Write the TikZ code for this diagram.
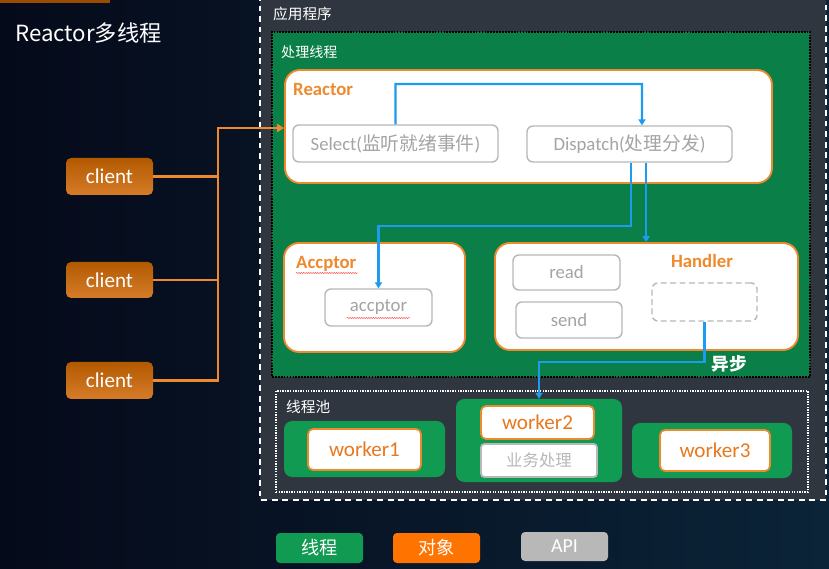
\documentclass[tikz,border=0pt]{standalone}
\usepackage{fontspec}
\setmainfont{Carlito}
\newfontfamily\cjk{Noto Sans CJK SC}
\usetikzlibrary{arrows.meta,calc,decorations.pathmorphing}
\definecolor{bgdark}{HTML}{050A1A}
\definecolor{bgblue}{HTML}{0B2438}
\definecolor{appgray}{HTML}{30363F}
\definecolor{procgreen}{HTML}{0A7F47}
\definecolor{thgreen}{HTML}{119A52}
\definecolor{objorange}{HTML}{EE8A2E}
\definecolor{txtorange}{HTML}{E8781E}
\definecolor{linegray}{HTML}{B8B8B8}
\definecolor{txtgray}{HTML}{A4A4A4}
\definecolor{flowblue}{HTML}{1E9BEF}
\tikzset{
  boxsize/.style args={#1 by #2}{minimum width=#1*0.03cm,minimum height=#2*0.03cm},
  obj/.style={draw=objorange,line width=1.6pt,fill=white,rounded corners=0.45cm,inner sep=0pt},
  api/.style={draw=linegray,line width=1.2pt,fill=white,rounded corners=0.18cm,inner sep=0pt,
    text=txtgray,font=\fontsize{16pt}{18pt}\selectfont},
  objlabel/.style={text=objorange,font=\fontsize{16pt}{18pt}\selectfont\bfseries,inner sep=0pt},
  grp/.style={fill=thgreen,rounded corners=0.25cm,inner sep=0pt},
  worker/.style={draw=objorange,line width=1.5pt,fill=white,rounded corners=0.15cm,inner sep=0pt,
    text=txtorange,font=\fontsize{18pt}{20pt}\selectfont},
  client/.style={top color=orange!70!black,bottom color=objorange!90!black,rounded corners=0.15cm,
    inner sep=0pt,text=white,font=\fontsize{18pt}{20pt}\selectfont},
  legend/.style={rounded corners=0.12cm,inner sep=0pt,text=white},
  areatitle/.style={text=white,inner sep=0pt,anchor=west},
  flow/.style={draw=flowblue,line width=2pt,-{Triangle[length=5pt,width=6pt]}},
  cline/.style={draw=objorange,line width=2.4pt},
  squiggle/.style={draw=red!80,line width=0.4pt,decorate,decoration={snake,amplitude=0.4pt,segment length=2pt}}
}

\begin{document}
\begin{tikzpicture}[x={(0.03cm,0)},y={(0,-0.03cm)}]
  \useasboundingbox (0,0) rectangle (829,569);
  \shade[left color=bgdark,right color=bgblue] (0,0) rectangle (829,569);
  \fill[orange!60!black] (0,0) rectangle (110,3);

  % application area
  \fill[appgray] (260,-5) rectangle (826,500);
  \draw[white,line width=1.5pt,dash pattern=on 5pt off 4pt] (260,-5) -- (260,500) -- (826,500) -- (826,-5);
  \node[areatitle,font=\cjk\fontsize{12.5pt}{14pt}\selectfont] (apptitle) at (273,14) {应用程序};

  \node[areatitle,font=\cjk\fontsize{19pt}{21pt}\selectfont] (title) at (15,33) {Reactor多线程};

  % processing thread
  \node[draw=black,densely dotted,line width=1.5pt,fill=procgreen,boxsize=538 by 345] (proc) at (541,204.5) {};
  \node[areatitle,font=\cjk\fontsize{12pt}{14pt}\selectfont] (proctitle) at (281,52) {处理线程};

  \node[obj,boxsize=487 by 113] (reactor) at (528.5,126.5) {};
  \node[objlabel,anchor=west] (reactorlbl) at (293,89) {Reactor};
  \node[api,boxsize=205 by 37] (select) at (395.5,143.5) {Select({\cjk 监听就绪事件})};
  \node[api,boxsize=205 by 36] (dispatch) at (629.5,144) {Dispatch({\cjk 处理分发})};

  \node[obj,boxsize=181 by 109] (accbox) at (374.5,297.5) {};
  \node[objlabel,anchor=west] (acclbl) at (296,264) {Accptor};
  \node[api,boxsize=107 by 37] (acc) at (378.5,307.5) {accptor};
  \draw[squiggle] (296,273) -- (358,273);
  \draw[squiggle] (347,318) -- (410,318);

  \node[obj,boxsize=303 by 107] (handler) at (646.5,296.5) {};
  \node[objlabel] (handlerlbl) at (702,261) {Handler};
  \node[api,boxsize=107 by 35] (read) at (566.5,272.5) {read};
  \node[api,boxsize=106 by 36] (send) at (569,320) {send};
  \node[api,dashed,dash pattern=on 5pt off 3pt,boxsize=105 by 38] (async) at (704.5,302) {};
  \node[text=white,inner sep=0pt,font=\cjk\fontsize{15pt}{17pt}\selectfont\bfseries] (asynclbl) at (729,364) {异步};

  % thread pool
  \node[draw=white,densely dotted,line width=1.2pt,boxsize=532 by 101] (pool) at (542,441.5) {};
  \node[areatitle,font=\cjk\fontsize{12.5pt}{14pt}\selectfont] (pooltitle) at (286,407) {线程池};

  \node[grp,boxsize=161 by 56] (grp1) at (364.5,449) {};
  \node[worker,boxsize=113 by 41] (w1) at (364.5,449.5) {worker1};
  \node[grp,boxsize=166 by 83] (grp2) at (539,440.5) {};
  \node[worker,boxsize=113 by 33] (w2) at (537.5,422.5) {worker2};
  \node[api,line width=1.5pt,rounded corners=0.1cm,boxsize=116 by 33,font=\cjk\fontsize{14pt}{16pt}\selectfont,text=linegray] (biz) at (539,460.5) {业务处理};
  \node[grp,boxsize=160 by 55] (grp3) at (712,450.5) {};
  \node[worker,boxsize=110 by 41] (w3) at (715,450.5) {worker3};

  % flows
  \coordinate (seltop) at (396,84);
  \draw[flow] (select.north) |- (seltop -| 642,0) -- ([xshift=0.375cm]dispatch.north);
  \coordinate (disptoacc) at (378.5,226);
  \draw[flow] ([xshift=0.05cm]dispatch.south) |- (disptoacc) -- (acc.north);
  \draw[flow] ([xshift=0.5cm]dispatch.south) -- ([xshift=0.5cm]dispatch.south |- handler.north);
  \coordinate (asyncturn) at (539,362);
  \draw[flow] (async.south) |- (asyncturn) -- (grp2.north);

  % clients
  \node[client,boxsize=87 by 37] (client1) at (109.5,176.5) {client};
  \node[client,boxsize=87 by 36] (client2) at (109.5,280) {client};
  \node[client,boxsize=87 by 37] (client3) at (109.5,380.5) {client};
  \coordinate (bus) at (218,128);
  \draw[cline,-{Triangle[length=6pt,width=7pt]}] (client3.east) -| (bus) -- (bus -| reactor.west);
  \draw[cline] (client1.east) -- (client1.east -| bus);
  \draw[cline] (client2.east) -- (client2.east -| bus);

  % legend
  \node[legend,fill=thgreen,boxsize=87 by 30,font=\cjk\fontsize{15.5pt}{17pt}\selectfont] (legthread) at (319.5,548) {线程};
  \node[legend,fill=orange!90!red,boxsize=87 by 30,font=\cjk\fontsize{15.5pt}{17pt}\selectfont] (legobj) at (436.5,548) {对象};
  \node[legend,fill=linegray,boxsize=87 by 29,font=\fontsize{17pt}{19pt}\selectfont] (legapi) at (564.5,546.5) {API};
\end{tikzpicture}
\end{document}
